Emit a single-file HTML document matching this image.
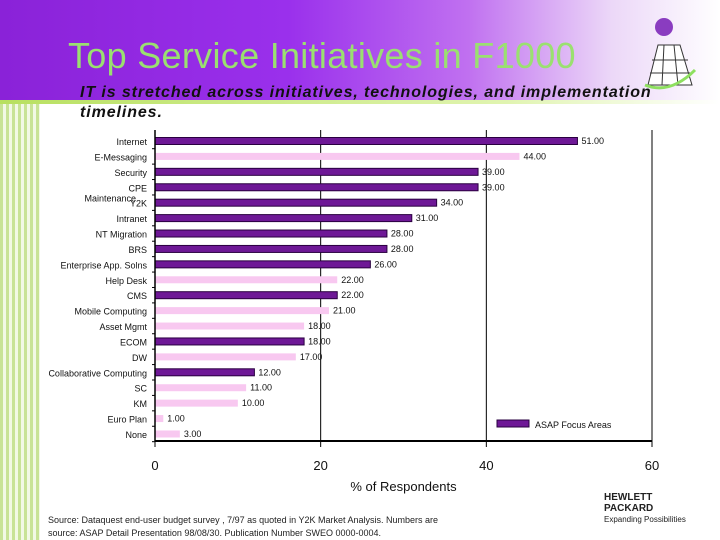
<!DOCTYPE html>
<html><head><meta charset="utf-8"><style>
body{margin:0;width:720px;height:540px;overflow:hidden;background:#fff;font-family:"Liberation Sans",sans-serif;position:relative}
.hdr{position:absolute;left:0;top:0;width:720px;height:100px;background:linear-gradient(90deg,#8a22d8 0%,#9a30ec 40%,#c070f0 65%,#ecd8f8 85%,#fff 100%)}
.gl{position:absolute;left:0;top:100px;width:720px;height:4px;background:linear-gradient(90deg,#b8e060,#e0f4b0 70%,#fff)}
.side{position:absolute;left:0;top:104px;width:40px;height:436px;background:repeating-linear-gradient(90deg,#9ccc40 0 3px,#e8f4d0 3px 6px);opacity:.55}
</style></head><body>
<div class="hdr"></div>
<div class="gl"></div>
<div class="side"></div>
<div style="position:absolute;left:68px;top:35px;font-size:36px;letter-spacing:0.3px;color:#9ae070;white-space:nowrap">Top Service Initiatives in F1000</div>
<div style="position:absolute;left:80px;top:83px;width:640px;font-size:16px;font-weight:bold;font-style:italic;letter-spacing:0.9px;line-height:20px;color:#111;white-space:nowrap">IT is stretched across initiatives, technologies, and implementation<br>timelines.</div>
<svg style="position:absolute;left:640px;top:15px" width="60" height="75"><circle cx="24" cy="12" r="9" fill="#8a3cc0"/><path d="M8 70 L18 30 L40 30 L52 70 Z" fill="#fff" stroke="#333"/><path d="M12 45H48M10 58H50M24 30L22 70M34 30L38 70" stroke="#333"/><path d="M5 70Q30 80 55 55" stroke="#8ee060" stroke-width="3" fill="none"/></svg>
<svg id="chart" style="position:absolute;left:0;top:0" width="720" height="540"></svg>
<div style="position:absolute;left:48px;top:514px;font-size:9px;color:#222;line-height:13px">Source: Dataquest end-user budget survey , 7/97 as quoted in Y2K Market Analysis. Numbers are<br>source: ASAP Detail Presentation 98/08/30. Publication Number SWEO 0000-0004.</div>
<div style="position:absolute;left:604px;top:492px;font-size:10px;font-weight:bold;line-height:11px;color:#222">HEWLETT<br>PACKARD<br><span style="font-weight:normal;font-size:8px">Expanding Possibilities</span></div>
<script>
const categories=["Internet","E-Messaging","Security","CPE","Y2K","Intranet","NT Migration","BRS","Enterprise App. Solns","Help Desk","CMS","Mobile Computing","Asset Mgmt","ECOM","DW","Collaborative Computing","SC","KM","Euro Plan","None"];
const values=[51,44,39,39,34,31,28,28,26,22,22,21,18,18,17,12,11,10,1,3];
const focus=[1,0,1,1,1,1,1,1,1,0,1,0,0,1,0,1,0,0,0,0];
const ticks=[0,20,40,60];
const NS="http://www.w3.org/2000/svg",svg=document.getElementById("chart");
const x0=155,scale=(652-155)/60,y0=141,step=15.42,axisY=441;
const X=v=>x0+v*scale, Y=i=>y0+i*step;
function mk(t,a){const e=document.createElementNS(NS,t);for(const k in a)e.setAttribute(k,a[k]);svg.appendChild(e);return e;}
ticks.forEach((t,i)=>{
 if(t>0){const g=mk("line",{x1:X(t),x2:X(t),y1:130,y2:axisY,stroke:"#000","stroke-width":1});
 
 }
 const tk=mk("line",{x1:X(t),x2:X(t),y1:axisY,y2:axisY+6,stroke:"#000"});
 
 
 const tl=mk("text",{x:X(t),y:470,"font-size":13,"text-anchor":"middle",fill:"#111"});tl.textContent=t;
 
 
});
categories.forEach((c,i)=>{
 const y=Y(i),v=values[i],f=focus[i];
 const b=mk("rect",{x:x0,y:y-3.5,width:X(v)-x0,height:7,fill:f?"#6e1896":"#f8c8f0",stroke:f?"#2a0040":"none","stroke-width":1});
 
 
 const vl=mk("text",{x:X(v)+4,y:y+3,"font-size":9,fill:"#111"});vl.textContent=v.toFixed(2);
 
 
 const cl=mk("text",{x:147,y:y+4,"font-size":9,"text-anchor":"end",fill:"#111"});cl.textContent=c;
 
 
 const yt=mk("line",{x1:x0-3,x2:x0,y1:y+7.7,y2:y+7.7,stroke:"#000"});
 
 
});
const m=mk("text",{x:136,y:Y(4)-1,"font-size":9,"text-anchor":"end",fill:"#111"});m.textContent="Maintenance";


const ya=mk("line",{x1:x0,x2:x0,y1:130,y2:axisY,stroke:"#000","stroke-width":1.5});


const xa=mk("line",{x1:x0,x2:X(60),y1:axisY,y2:axisY,stroke:"#000","stroke-width":2});


const at=mk("text",{x:X(30),y:491,"font-size":13,"text-anchor":"middle",fill:"#111"});at.textContent="% of Respondents";


const lb=mk("rect",{x:497,y:420,width:32,height:7,fill:"#6e1896",stroke:"#2a0040"});


const lt=mk("text",{x:535,y:428,"font-size":9,fill:"#111"});lt.textContent="ASAP Focus Areas";


</script>
</body></html>
